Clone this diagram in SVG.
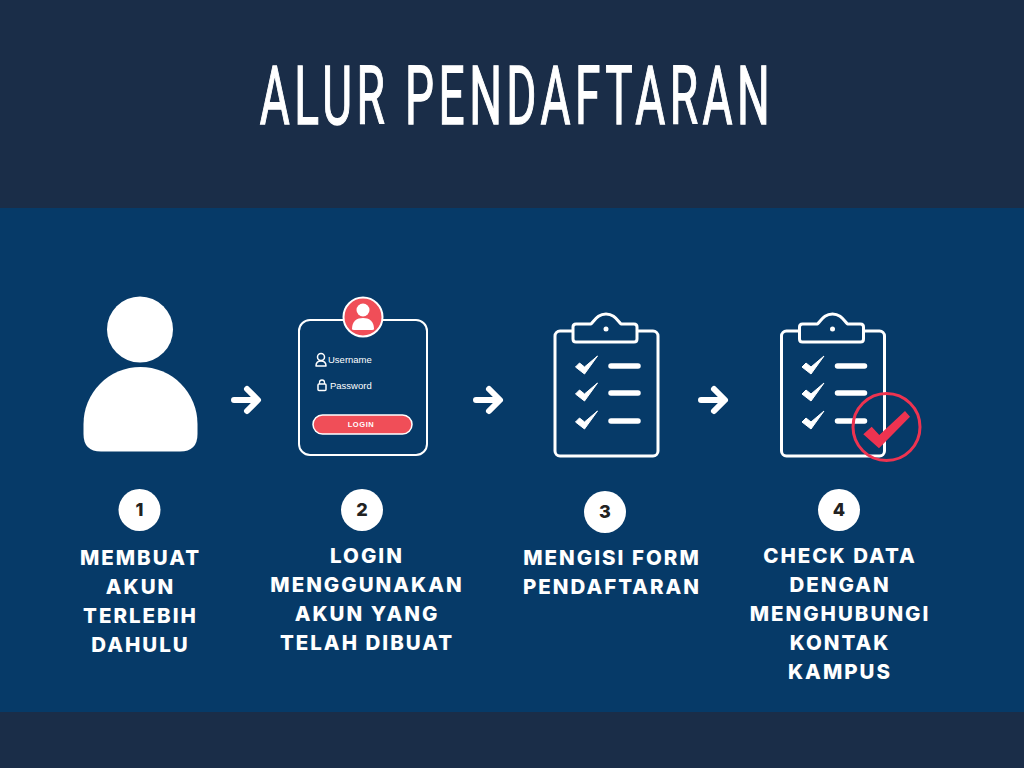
<svg xmlns="http://www.w3.org/2000/svg" width="1024" height="768" viewBox="0 0 1024 768">
<style>
.lab{font-family:"Inter","Liberation Sans",sans-serif;font-weight:800;font-size:20.500px;fill:#fff;text-anchor:middle;letter-spacing:2px}
.num{font-family:"Inter","Liberation Sans",sans-serif;font-weight:800;font-size:18px;fill:#222;text-anchor:middle}
.ln{fill:none;stroke:#fff;stroke-width:3;stroke-linecap:round;stroke-linejoin:round}
.bar{fill:none;stroke:#fff;stroke-width:5.500;stroke-linecap:round}
.arr{fill:none;stroke:#fff;stroke-width:6;stroke-linecap:round;stroke-linejoin:round}
.hand{font-family:"Liberation Sans",sans-serif;font-size:9.500px;fill:#fff}
</style>
<defs>
<g id="clip">
<rect x="555" y="331" width="103" height="125" rx="5" class="ln"/>
<path d="M576 324H591C595 320 598 314 606 314C614 314 617 320 621 324H634Q637 324 637 327V339Q637 342 634 342H576Q573 342 573 339V327Q573 324 576 324Z" fill="#063a68" stroke="#fff" stroke-width="3" stroke-linejoin="round"/>
<circle cx="606" cy="329" r="2.500" fill="#fff"/>
<path id="tick" d="M575.500 367L579.500 363L584.500 367L597.500 356L584.500 374Z" fill="#fff" stroke="#fff" stroke-width="1" stroke-linejoin="round"/>
<use href="#tick" y="27"/><use href="#tick" y="55"/>
<path d="M611 366H638M611 393H638M611 421H638" class="bar"/>
</g>
</defs>
<rect width="1024" height="768" fill="#1a2d48"/>
<rect y="208" width="1024" height="504" fill="#063a68"/>
<g id="title"><text transform="translate(517 124) scale(.56 1)" x="0" y="0" font-family="Roboto,'Liberation Sans',sans-serif" font-weight="400" font-size="82" letter-spacing="8" fill="#fff" stroke="#fff" stroke-width="1.400" text-anchor="middle">ALUR PENDAFTARAN</text></g>
<g id="connectors">
<path d="M234 400H257M247 389L258 400L247 411" class="arr"/>
<path d="M476 400H499M489 389L500 400L489 411" class="arr"/>
<path d="M701 400H724M714 389L725 400L714 411" class="arr"/>
</g>
<g id="node1">
<circle cx="140" cy="329.500" r="33" fill="#fff"/>
<path d="M83.500 424A57 57 0 0 1 197.500 424V434Q197.500 451.500 180 451.500H101Q83.500 451.500 83.500 434Z" fill="#fff"/>
<circle cx="139.500" cy="510" r="21" fill="#fff"/><text class="num" x="139.500" y="516">1</text>
<text class="lab"><tspan x="140.500" y="565">MEMBUAT</tspan><tspan x="140.500" y="594">AKUN</tspan><tspan x="140.500" y="623">TERLEBIH</tspan><tspan x="140.500" y="652">DAHULU</tspan></text>
</g>
<g id="node2">
<rect x="299" y="320" width="128" height="135" rx="11" fill="none" stroke="#fff" stroke-width="2"/>
<circle cx="363" cy="317" r="19.500" fill="#f04e58" stroke="#fff" stroke-width="2"/>
<circle cx="363" cy="310" r="6.500" fill="#fff"/>
<path d="M352 329C352 321 357 318 363 318C369 318 374 321 374 329Q374 330 372 330H354Q352 330 352 329Z" fill="#fff"/>
<circle cx="321" cy="357" r="3.500" fill="none" stroke="#fff" stroke-width="1.500"/>
<path d="M316 366C316 362 318 361 321 361C324 361 326 362 326 366Z" fill="none" stroke="#fff" stroke-width="1.500" stroke-linejoin="round"/>
<text class="hand" x="328" y="363">Username</text>
<rect x="318" y="384" width="8" height="6.500" rx="1" fill="none" stroke="#fff" stroke-width="1.500"/>
<path d="M319.500 384V382.500A2.500 2.500 0 0 1 324.500 382.500V384" fill="none" stroke="#fff" stroke-width="1.300"/>
<text class="hand" x="330" y="389">Password</text>
<rect x="313" y="415" width="99" height="19" rx="9.500" fill="#f04e58" stroke="#fff" stroke-width="1.500"/>
<text x="361" y="427" font-family="'Liberation Sans',sans-serif" font-size="7.500" font-weight="700" fill="#fff" text-anchor="middle" letter-spacing="0.600">LOGIN</text>
<circle cx="362" cy="510" r="21" fill="#fff"/><text class="num" x="362" y="516">2</text>
<text class="lab"><tspan x="367" y="563">LOGIN</tspan><tspan x="367" y="592">MENGGUNAKAN</tspan><tspan x="367" y="621">AKUN YANG</tspan><tspan x="367" y="650">TELAH DIBUAT</tspan></text>
</g>
<g id="node3">
<use href="#clip"/>
<circle cx="605" cy="512" r="21" fill="#fff"/><text class="num" x="605" y="518">3</text>
<text class="lab"><tspan x="612" y="565">MENGISI FORM</tspan><tspan x="612" y="594">PENDAFTARAN</tspan></text>
</g>
<g id="node4">
<use href="#clip" x="226.500"/>
<circle cx="886.500" cy="427" r="33.500" fill="none" stroke="#ee3350" stroke-width="3"/>
<path d="M863.300 434.300L871.700 426.700L879.300 435L905 411L910 416.700L879 448.300Z" fill="#ee3350"/>
<circle cx="839" cy="510" r="21" fill="#fff"/><text class="num" x="839" y="516">4</text>
<text class="lab"><tspan x="840" y="563">CHECK DATA</tspan><tspan x="840" y="592">DENGAN</tspan><tspan x="840" y="621">MENGHUBUNGI</tspan><tspan x="840" y="650">KONTAK</tspan><tspan x="840" y="679">KAMPUS</tspan></text>
</g>
</svg>
